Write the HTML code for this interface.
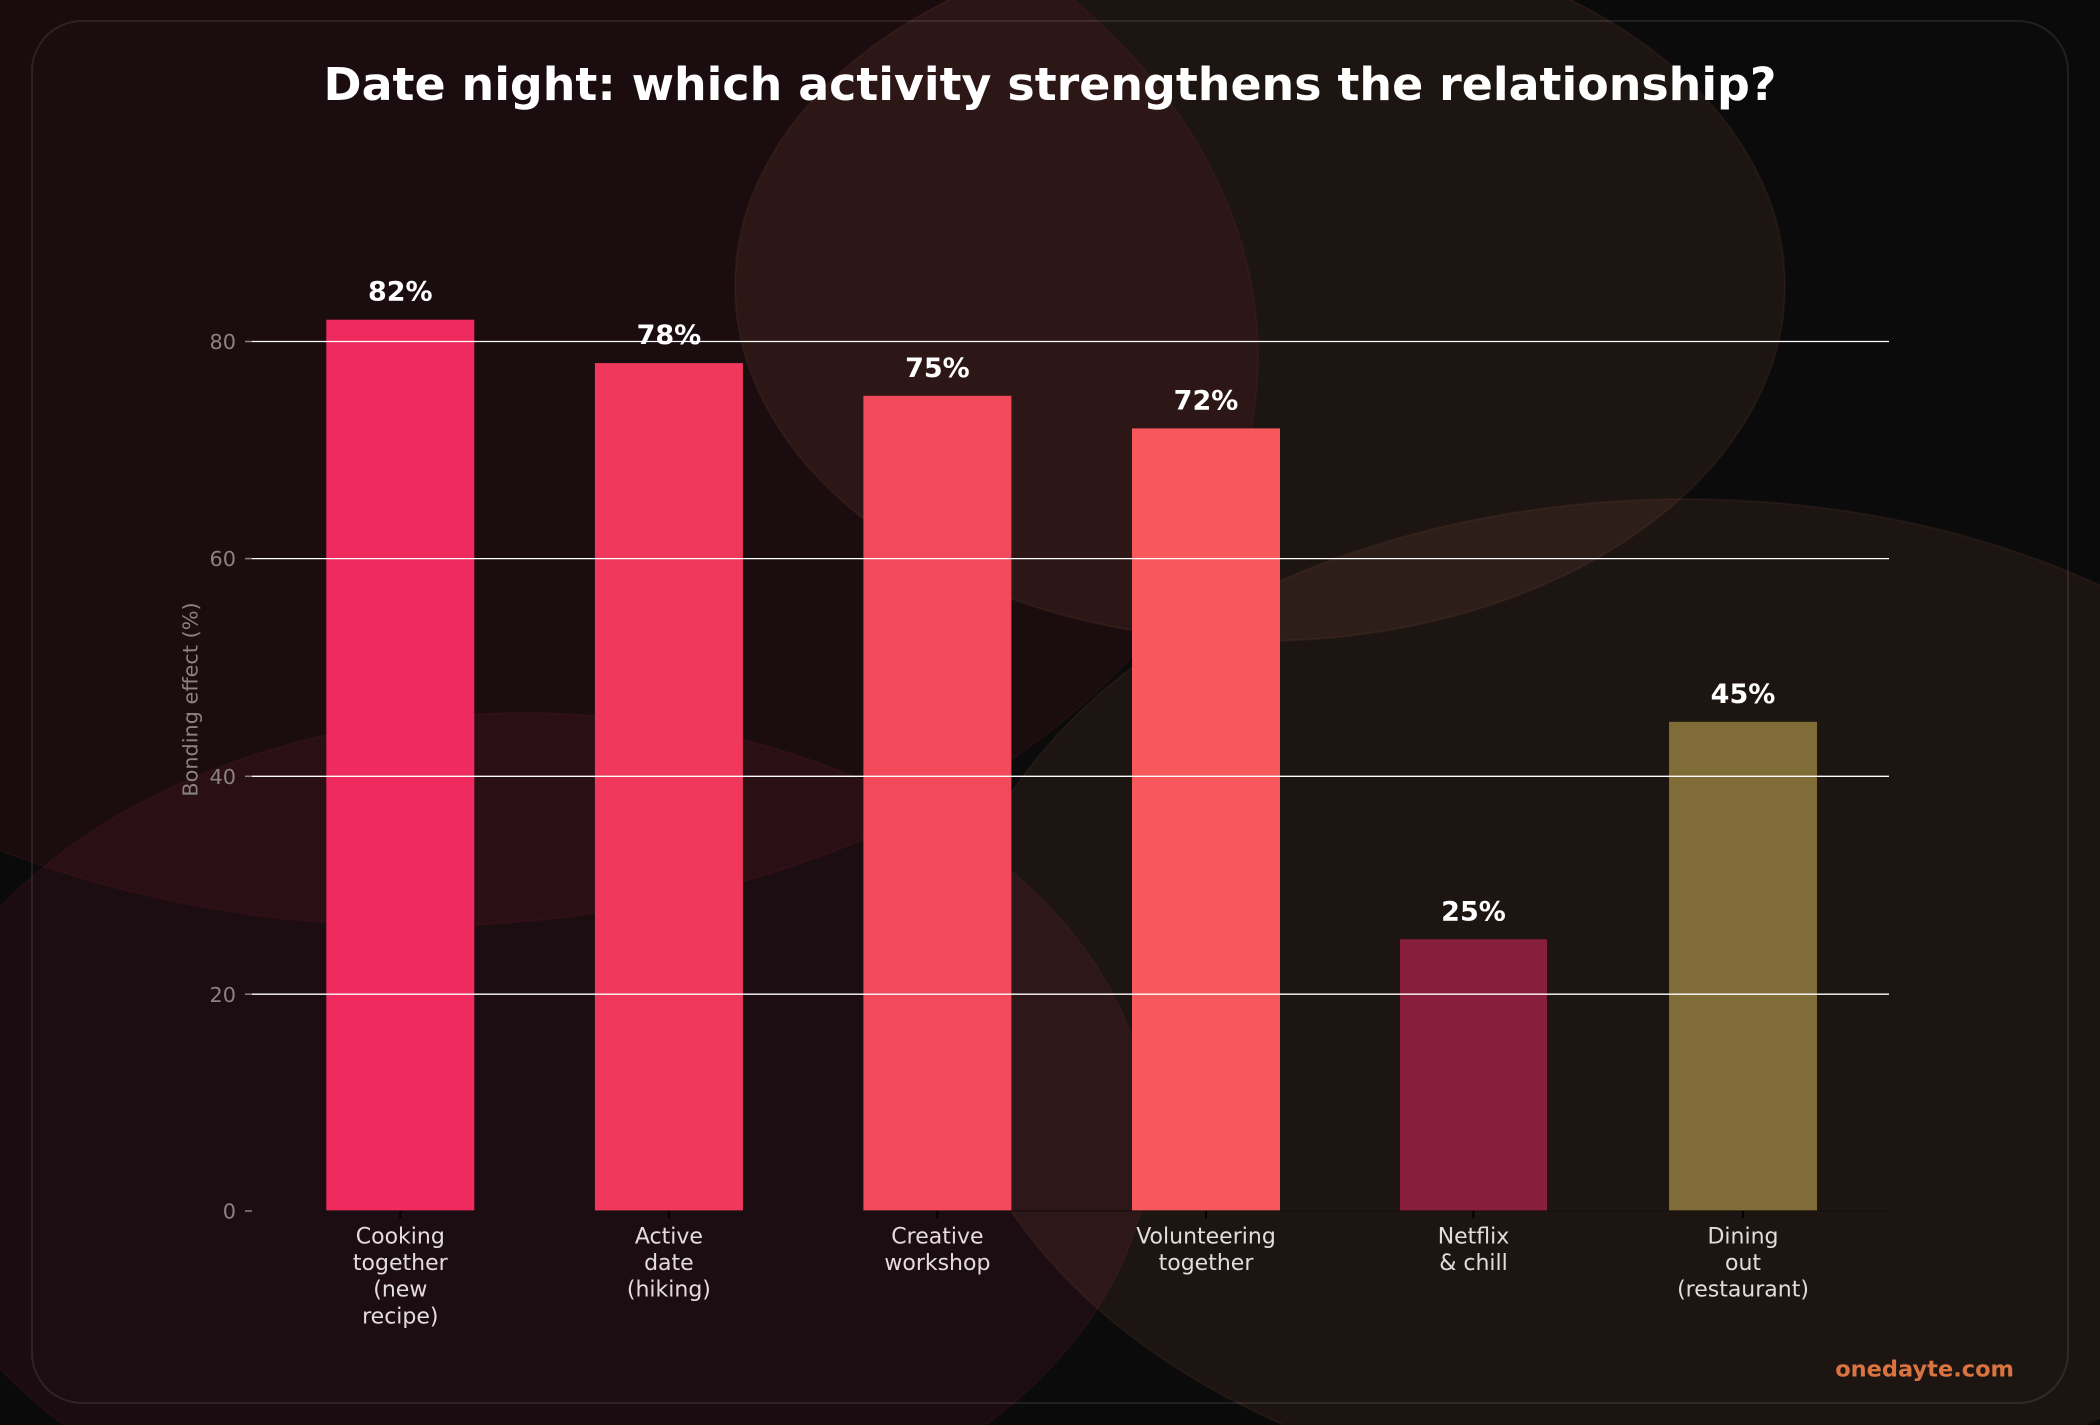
<!DOCTYPE html>
<html>
<head>
<meta charset="utf-8">
<style>
  html, body { margin:0; padding:0; background:#0a0a0a; width:2100px; height:1425px; overflow:hidden; }
  svg { display:block; position:absolute; left:0; top:0; }
  text { font-family: "DejaVu Sans", "Liberation Sans", sans-serif; }
</style>
</head>
<body>
<svg width="2100" height="1425" viewBox="0 0 2100 1425" xmlns="http://www.w3.org/2000/svg" overflow="hidden">
  <rect x="0" y="0" width="2100" height="1425" fill="#0a0a0a"/>
  <!-- background blobs -->
  <ellipse cx="418" cy="356" rx="840" ry="570" fill="rgb(220,40,70)" fill-opacity="0.08" stroke="rgb(220,60,80)" stroke-opacity="0.06" stroke-width="2"/>
  <!-- C: clipped ellipse cx525 cy1138 rx625 ry425 -->
  <path d="M0,907.4 A625,425 0 1 1 986,1425 L64,1425 A625,425 0 0 1 0,1368.6 Z" fill="rgb(225,40,105)" fill-opacity="0.08"/>
  <path d="M0,907.4 A625,425 0 1 1 986,1425 M64,1425 A625,425 0 0 1 0,1368.6" fill="none" stroke="rgb(225,60,100)" stroke-opacity="0.06" stroke-width="2"/>
  <ellipse cx="1260" cy="286" rx="525" ry="355" fill="rgb(200,120,90)" fill-opacity="0.1" stroke="rgb(220,130,100)" stroke-opacity="0.07" stroke-width="2"/>
  <!-- D: clipped ellipse cx1685 cy1002 rx741 ry503 -->
  <path d="M2100,585.3 A741,503 0 1 0 1284,1425 L2086,1425 A741,503 0 0 0 2100,1418.7 Z" fill="rgb(200,120,90)" fill-opacity="0.1"/>
  <path d="M2100,585.3 A741,503 0 1 0 1284,1425" fill="none" stroke="rgb(220,130,100)" stroke-opacity="0.07" stroke-width="2"/>
  <!-- frame -->
  <rect x="32" y="21" width="2036" height="1382" rx="50" ry="50" fill="rgba(255,255,255,0.008)" stroke="rgba(255,255,255,0.09)" stroke-width="2"/>

  <!-- title -->
  <text x="1050" y="100" text-anchor="middle" font-size="45.5" font-weight="bold" fill="#ffffff" textLength="1453" lengthAdjust="spacingAndGlyphs">Date night: which activity strengthens the relationship?</text>

  <!-- bars -->
  <rect x="326.3" y="319.7" width="148" height="891.3" fill="#ee2a5e"/>
  <rect x="594.9" y="363.1" width="148" height="847.9" fill="#f0385c"/>
  <rect x="863.4" y="395.8" width="148" height="815.2" fill="#f34a5b"/>
  <rect x="1132" y="428.4" width="148" height="782.6" fill="#f6585b"/>
  <rect x="1400" y="939.2" width="147" height="271.8" fill="#871f3c"/>
  <rect x="1669" y="721.8" width="148" height="489.2" fill="#806c36"/>

  <!-- gridlines (above bars) -->
  <g stroke="#ffffff" stroke-width="1.3">
    <line x1="252" y1="341.5" x2="1889" y2="341.5"/>
    <line x1="252" y1="558.6" x2="1889" y2="558.6"/>
    <line x1="252" y1="776.3" x2="1889" y2="776.3"/>
    <line x1="252" y1="994.2" x2="1889" y2="994.2"/>
  </g>
  <!-- bottom spine -->
  <line x1="252" y1="1211" x2="1889" y2="1211" stroke="#181010" stroke-width="1.3"/>
  <!-- x ticks -->
  <g stroke="#000000" stroke-width="2">
    <line x1="400.3" y1="1211" x2="400.3" y2="1218"/>
    <line x1="668.9" y1="1211" x2="668.9" y2="1218"/>
    <line x1="937.4" y1="1211" x2="937.4" y2="1218"/>
    <line x1="1206" y1="1211" x2="1206" y2="1218"/>
    <line x1="1473.5" y1="1211" x2="1473.5" y2="1218"/>
    <line x1="1743" y1="1211" x2="1743" y2="1218"/>
  </g>
  <!-- y ticks -->
  <g stroke="#8a8282" stroke-width="1.5">
    <line x1="245" y1="341.5" x2="252" y2="341.5"/>
    <line x1="245" y1="558.6" x2="252" y2="558.6"/>
    <line x1="245" y1="776.3" x2="252" y2="776.3"/>
    <line x1="245" y1="994.2" x2="252" y2="994.2"/>
    <line x1="245" y1="1211" x2="252" y2="1211"/>
  </g>
  <g font-size="20.8" fill="#8a8282" text-anchor="end">
    <text x="236" y="349">80</text>
    <text x="236" y="566.2">60</text>
    <text x="236" y="783.9">40</text>
    <text x="236" y="1001.8">20</text>
    <text x="236" y="1218.6">0</text>
  </g>
  <text transform="translate(197.7,699.5) rotate(-90)" text-anchor="middle" font-size="20.8" fill="#8a8282">Bonding effect (%)</text>

  <!-- value labels -->
  <g font-size="27" font-weight="bold" fill="#ffffff" text-anchor="middle">
    <text x="400.3" y="300.7">82%</text>
    <text x="668.9" y="344.1">78%</text>
    <text x="937.4" y="376.8">75%</text>
    <text x="1206" y="409.4">72%</text>
    <text x="1473.5" y="920.5">25%</text>
    <text x="1743" y="702.8">45%</text>
  </g>

  <!-- x labels -->
  <g font-size="22" fill="#e2dcdc" text-anchor="middle">
    <text x="400.3" y="1243.3">Cooking</text>
    <text x="400.3" y="1270">together</text>
    <text x="400.3" y="1296.7">(new</text>
    <text x="400.3" y="1323.4">recipe)</text>

    <text x="668.9" y="1243.3">Active</text>
    <text x="668.9" y="1270">date</text>
    <text x="668.9" y="1296.7">(hiking)</text>

    <text x="937.4" y="1243.3">Creative</text>
    <text x="937.4" y="1270">workshop</text>

    <text x="1206" y="1243.3">Volunteering</text>
    <text x="1206" y="1270">together</text>

    <text x="1473.5" y="1243.3">Netflix</text>
    <text x="1473.5" y="1270">&amp; chill</text>

    <text x="1743" y="1243.3">Dining</text>
    <text x="1743" y="1270">out</text>
    <text x="1743" y="1296.7">(restaurant)</text>
  </g>

  <!-- watermark -->
  <text x="2014" y="1376.7" text-anchor="end" font-size="22.5" font-weight="bold" fill="#d97441">onedayte.com</text>
</svg>
</body>
</html>
